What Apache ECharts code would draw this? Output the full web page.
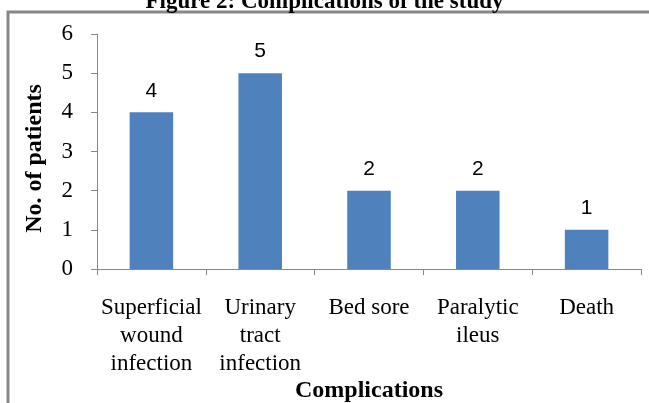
<!DOCTYPE html>
<html>
<head>
<meta charset="utf-8">
<script src="https://cdn.jsdelivr.net/npm/echarts@6/dist/echarts.min.js"></script>
<style>
  html, body { margin: 0; padding: 0; background: #fff; }
  #chart { width: 649px; height: 403px; }
</style>
</head>
<body>
<div id="chart"></div>
<script>
// categories & values
var categories = ['Superficial\nwound\ninfection', 'Urinary\ntract\ninfection', 'Bed sore', 'Paralytic\nileus', 'Death'];
var patients = [4, 5, 2, 2, 1];
var yTicks = [0, 1, 2, 3, 4, 5, 6];

var serif = '"Liberation Serif", "Times New Roman", serif';

var myChart = echarts.init(document.getElementById('chart'));

myChart.setOption({
  animation: false,
  title: {
    text: 'Figure 2: Complications of the study',
    left: 'center',
    top: -14,
    textStyle: { fontFamily: serif, fontSize: 23, fontWeight: 'bold', color: '#000' }
  },
  graphic: [{
    type: 'rect',
    shape: { x: 8, y: 12, width: 800, height: 500 },
    style: { fill: 'none', stroke: '#888', lineWidth: 3 },
    silent: true
  }],
  grid: { left: 97, right: 8, top: 34, bottom: 134, outerBoundsMode: 'none', containLabel: false },
  xAxis: {
    type: 'category',
    data: categories,
    name: 'Complications',
    nameLocation: 'middle',
    nameGap: 110,
    nameMoveOverlap: false,
    nameTextStyle: { fontFamily: serif, fontSize: 24, fontWeight: 'bold', color: '#000' },
    axisLine: { lineStyle: { color: '#888' } },
    axisTick: { show: true, length: 6, lineStyle: { color: '#888' } },
    axisLabel: { fontFamily: serif, fontSize: 23, color: '#000', lineHeight: 28, margin: 25, interval: 0 }
  },
  yAxis: {
    type: 'value',
    min: yTicks[0],
    max: yTicks[yTicks.length - 1],
    interval: 1,
    name: 'No. of patients',
    nameLocation: 'middle',
    nameGap: 50,
    nameMoveOverlap: false,
    nameTextStyle: { fontFamily: serif, fontSize: 24, fontWeight: 'bold', color: '#000', padding: [0, 14, 0, 0] },
    axisLine: { show: true, lineStyle: { color: '#888' } },
    axisTick: { show: true, length: 6, lineStyle: { color: '#888' } },
    splitLine: { show: false },
    axisLabel: { fontFamily: serif, fontSize: 23, color: '#000', margin: 24 }
  },
  series: [{
    type: 'bar',
    data: patients,
    barWidth: '40%',
    itemStyle: { color: '#4F81BD' },
    label: {
      show: true,
      position: 'top',
      distance: 11,
      fontFamily: '"Liberation Sans", Arial, sans-serif',
      fontSize: 21,
      color: '#000'
    }
  }]
});
</script>
</body>
</html>
